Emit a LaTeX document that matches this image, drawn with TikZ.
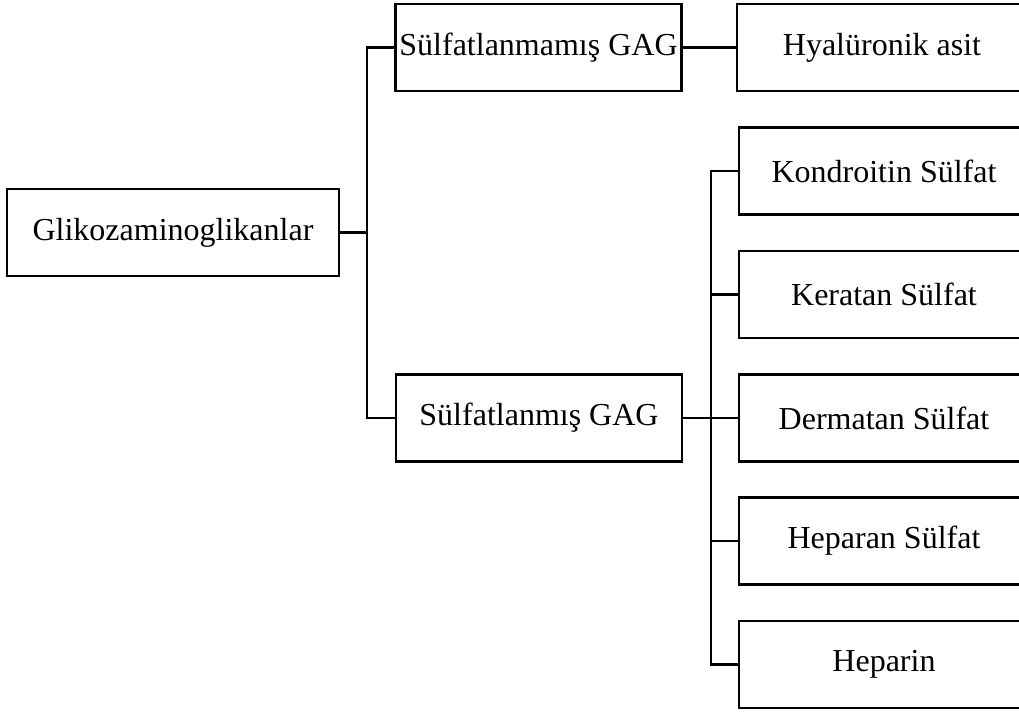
\documentclass[tikz,border=0pt]{standalone}
\usepackage{fontspec}
\setmainfont{Liberation Serif}
\usetikzlibrary{calc}

\begin{document}
\begin{tikzpicture}[
 x=0.5pt, y=-0.5pt,
 font=\fontsize{16}{19}\selectfont,
 box/.style={draw=black,line width=1.2pt,inner sep=0pt,minimum height=43.5pt},
 mainbox/.style={box,minimum width=166pt},
 midbox/.style={box,minimum width=143pt},
 leafbox/.style={box,minimum width=145pt},
 link/.style={black,line width=1.2pt},
]
\useasboundingbox (0, 0) rectangle (1019, 713);

% Root
\node[mainbox] (glik) at (173, 232.5) {Glikozaminoglikanlar};

% Second level
\node[midbox] (sulfsiz) at (538.5, 47.5) {Sülfatlanmamış GAG};
\node[midbox] (sulfli) at (539, 418) {Sülfatlanmış GAG};

% Leaves
\node[leafbox] (hya) at (882, 47.5) {Hyalüronik asit};
\foreach \name/\y/\text in {kon/171/Kondroitin Sülfat, ker/294.5/Keratan Sülfat,
    der/418/Dermatan Sülfat, hep/541/Heparan Sülfat, hrn/664.5/Heparin}
    \node[leafbox] (\name) at (884, \y) {\text};

% Connectors
\coordinate (j1) at (367, 232.5);
\coordinate (j2) at (711, 418);
\draw[link] (glik.east) -- (j1);
\draw[link] (sulfsiz.west) -| (j1) |- (sulfli.west);
\draw[link] (sulfsiz.east) -- (hya.west);
\draw[link] (sulfli.east) -- (j2);
\foreach \name in {kon,ker,der,hep,hrn}
    \draw[link] (j2) |- (\name.west);

\end{tikzpicture}
\end{document}
